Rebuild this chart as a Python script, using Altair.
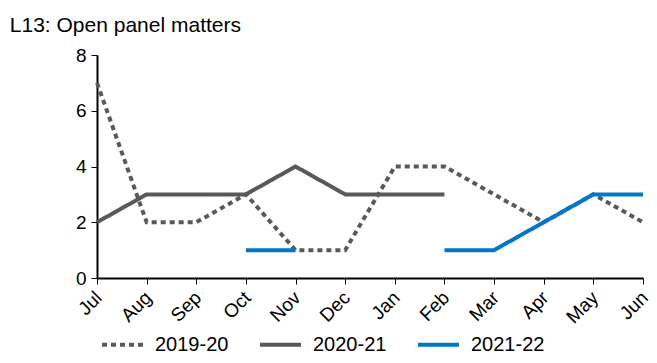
import altair as alt
import pandas as pd

months = ["Jul", "Aug", "Sep", "Oct", "Nov", "Dec", "Jan", "Feb", "Mar", "Apr", "May", "Jun"]
s2019 = [7, 2, 2, 3, 1, 1, 4, 4, 3, 2, 3, 2]
s2020 = [2, 3, 3, 3, 4, 3, 3, 3, None, None, None, None]
s2021 = [None, None, None, 1, 1, None, None, 1, 1, 2, 3, 3]
series = ["2019-20", "2020-21", "2021-22"]
colors = ["#595959", "#595959", "#0077C8"]
dashes = [[5, 4], [1, 0], [1, 0]]

rows = []
for name, vals in zip(series, [s2019, s2020, s2021]):
    seg = 0
    prev = None
    for i, (m, v) in enumerate(zip(months, vals)):
        if v is None:
            if prev is not None:
                seg += 1
            prev = None
            continue
        rows.append({"month": m, "value": v, "series": name, "seg": f"{name}-{seg}", "order": i})
        prev = v
df = pd.DataFrame(rows)

font = "Liberation Sans"

chart = alt.Chart(df).mark_line(strokeWidth=4, strokeCap="butt").encode(
    x=alt.X("month:N", sort=months, title=None,
            scale=alt.Scale(type="point", domain=months, padding=0),
            axis=alt.Axis(labelAngle=-45, labelFontSize=19, labelFont=font, labelColor="black",
                          domainColor="black", domainWidth=2, tickColor="black", tickSize=6,
                          tickWidth=1, labelPadding=4, labelOffset=-5)),
    y=alt.Y("value:Q", title=None,
            scale=alt.Scale(domain=[0, 8], nice=False),
            axis=alt.Axis(values=[0, 2, 4, 6, 8], grid=False, labelFontSize=19, labelFont=font,
                          labelColor="black", domainColor="black", domainWidth=2,
                          tickColor="black", tickSize=6, tickWidth=1, labelPadding=5)),
    color=alt.Color("series:N", scale=alt.Scale(domain=series, range=colors),
                    legend=alt.Legend(title=None, orient="none", direction="horizontal",
                                      legendX=3, legendY=267, symbolType="stroke",
                                      symbolSize=1681, symbolStrokeWidth=4,
                                      labelFontSize=20, labelFont=font, labelColor="black",
                                      columnPadding=23, labelOffset=10)),
    strokeDash=alt.StrokeDash("series:N", scale=alt.Scale(domain=series, range=dashes), legend=None),
    detail="seg:N",
    order="order:Q",
).properties(
    width=546, height=223,
    title=alt.Title("L13: Open panel matters", anchor="start", fontSize=21, font=font,
                    fontWeight="normal", color="black", dx=-65, offset=10),
    autosize=alt.AutoSizeParams(type="none"),
    padding={"left": 89, "top": 47, "right": 6, "bottom": 77},
).configure_view(stroke=None)

chart.save("out.html", embed_options={"renderer": "svg", "actions": False})
